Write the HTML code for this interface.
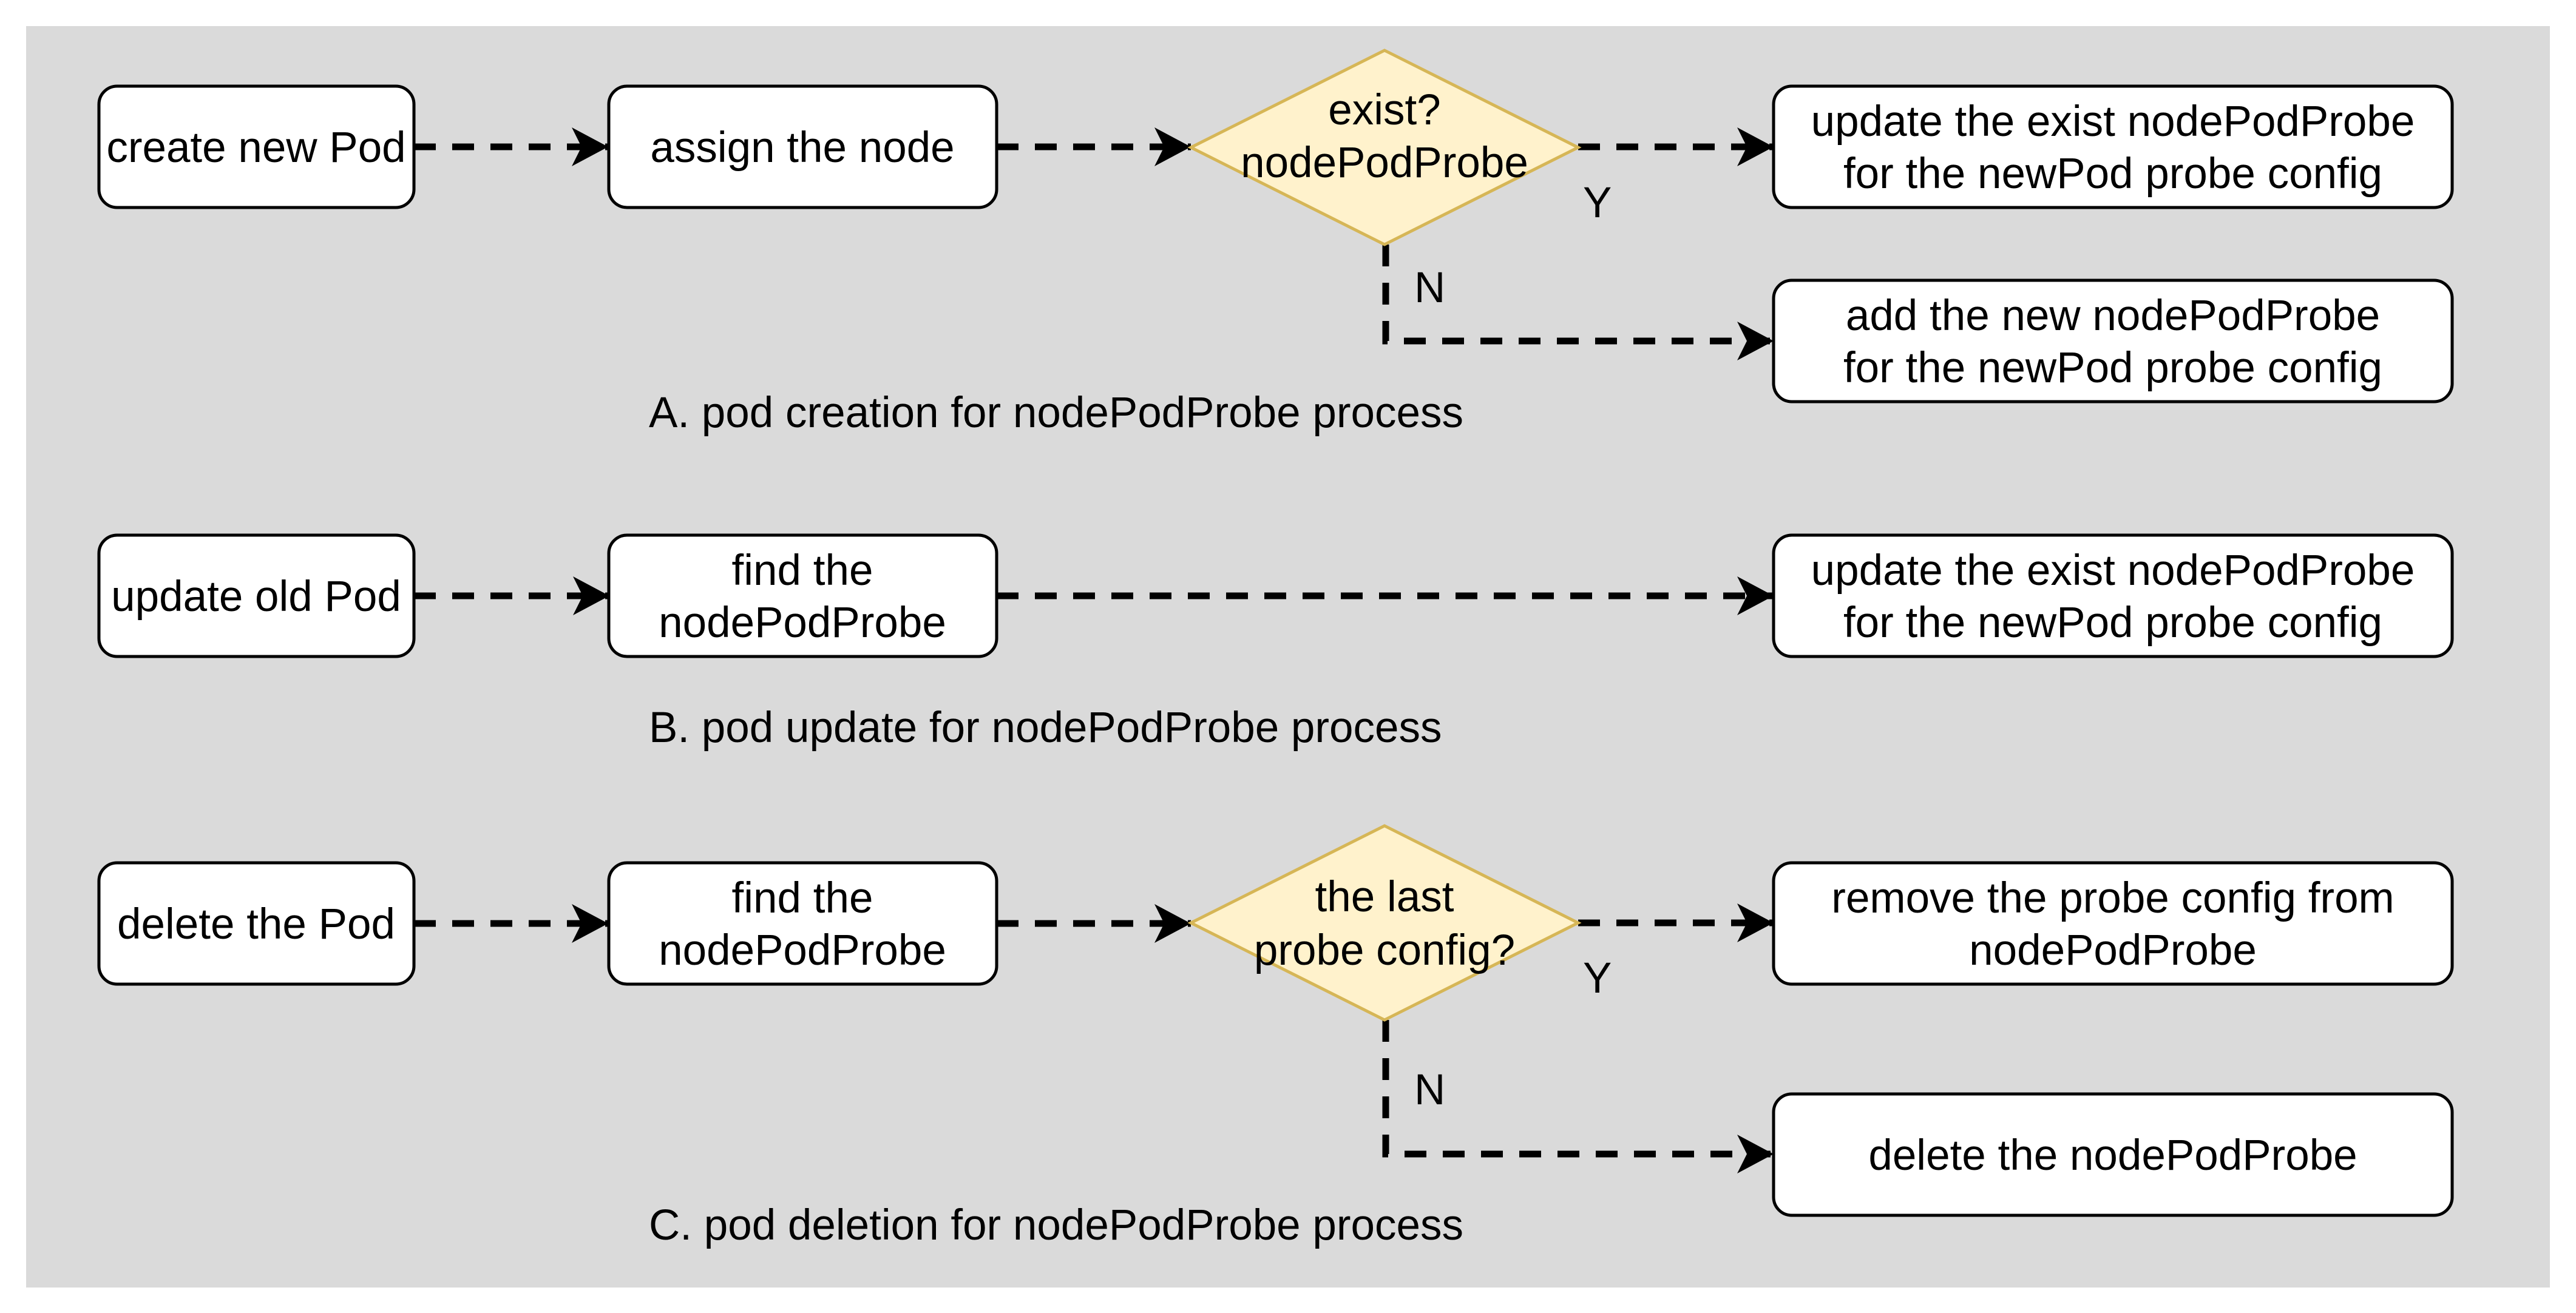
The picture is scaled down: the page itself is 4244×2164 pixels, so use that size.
<!DOCTYPE html>
<html><head><meta charset="utf-8"><style>
html,body{margin:0;padding:0;background:#fff;}
svg{display:block;}
text{font-family:"Liberation Sans",Arial,sans-serif;font-size:71px;fill:#000;}
</style></head><body>
<svg width="4244" height="2164" viewBox="0 0 4244 2164" xmlns="http://www.w3.org/2000/svg">
<defs>
<marker id="ah" markerUnits="userSpaceOnUse" markerWidth="70" markerHeight="70" refX="60" refY="32" orient="auto">
<path d="M0,0 L60,32 L0,64 L16,32 Z" fill="#000"/>
</marker>
</defs>
<rect x="43" y="43" width="4158" height="2079" fill="#dadada"/>
<g fill="none" stroke="#000" stroke-width="11" stroke-dasharray="36,27" marker-end="url(#ah)">
<path d="M682,242 H1002"/>
<path d="M1642,242 H1962"/>
<path d="M2600,242 H2922"/>
<path d="M2283,403 V562 H2922"/>
<path d="M682,982 H1004"/>
<path d="M1642,982 H2922"/>
<path d="M682,1522 H1002"/>
<path d="M1642,1522 H1962"/>
<path d="M2600,1521 H2922"/>
<path d="M2283,1681 V1902 H2922"/>
</g>
<g fill="#fff" stroke="#000" stroke-width="5">
<rect x="163" y="142" width="519" height="200" rx="30"/>
<rect x="1003" y="142" width="639" height="200" rx="30"/>
<rect x="2922" y="142" width="1118" height="200" rx="30"/>
<rect x="2922" y="462" width="1118" height="200" rx="30"/>
<rect x="163" y="882" width="519" height="200" rx="30"/>
<rect x="1003" y="882" width="639" height="200" rx="30"/>
<rect x="2922" y="882" width="1118" height="200" rx="30"/>
<rect x="163" y="1422" width="519" height="200" rx="30"/>
<rect x="1003" y="1422" width="639" height="200" rx="30"/>
<rect x="2922" y="1422" width="1118" height="200" rx="30"/>
<rect x="2922" y="1803" width="1118" height="200" rx="30"/>
</g>
<g fill="#fff2cc" stroke="#d6b656" stroke-width="5">
<path d="M1962,243 L2281,83 L2600,243 L2281,403 Z"/>
<path d="M1962,1521 L2281,1361 L2600,1521 L2281,1681 Z"/>
</g>
<g text-anchor="middle">
<text x="422" y="267">create new Pod</text>
<text x="1322" y="267">assign the node</text>
<text x="2281" y="205">exist?</text>
<text x="2281" y="292">nodePodProbe</text>
<text x="3481" y="224">update the exist nodePodProbe</text>
<text x="3481" y="310">for the newPod probe config</text>
<text x="3481" y="544">add the new nodePodProbe</text>
<text x="3481" y="630">for the newPod probe config</text>
<text x="422" y="1007">update old Pod</text>
<text x="1322" y="964">find the</text>
<text x="1322" y="1050">nodePodProbe</text>
<text x="3481" y="964">update the exist nodePodProbe</text>
<text x="3481" y="1050">for the newPod probe config</text>
<text x="422" y="1547">delete the Pod</text>
<text x="1322" y="1504">find the</text>
<text x="1322" y="1590">nodePodProbe</text>
<text x="2281" y="1502">the last</text>
<text x="2281" y="1590">probe config?</text>
<text x="3481" y="1504">remove the probe config from</text>
<text x="3481" y="1590">nodePodProbe</text>
<text x="3481" y="1928">delete the nodePodProbe</text>
</g>
<text x="2608" y="358">Y</text>
<text x="2330" y="498">N</text>
<text x="2608" y="1636">Y</text>
<text x="2330" y="1820">N</text>
<text x="1069" y="704">A. pod creation for nodePodProbe process</text>
<text x="1069" y="1223">B. pod update for nodePodProbe process</text>
<text x="1069" y="2043">C. pod deletion for nodePodProbe process</text>
</svg>
</body></html>
